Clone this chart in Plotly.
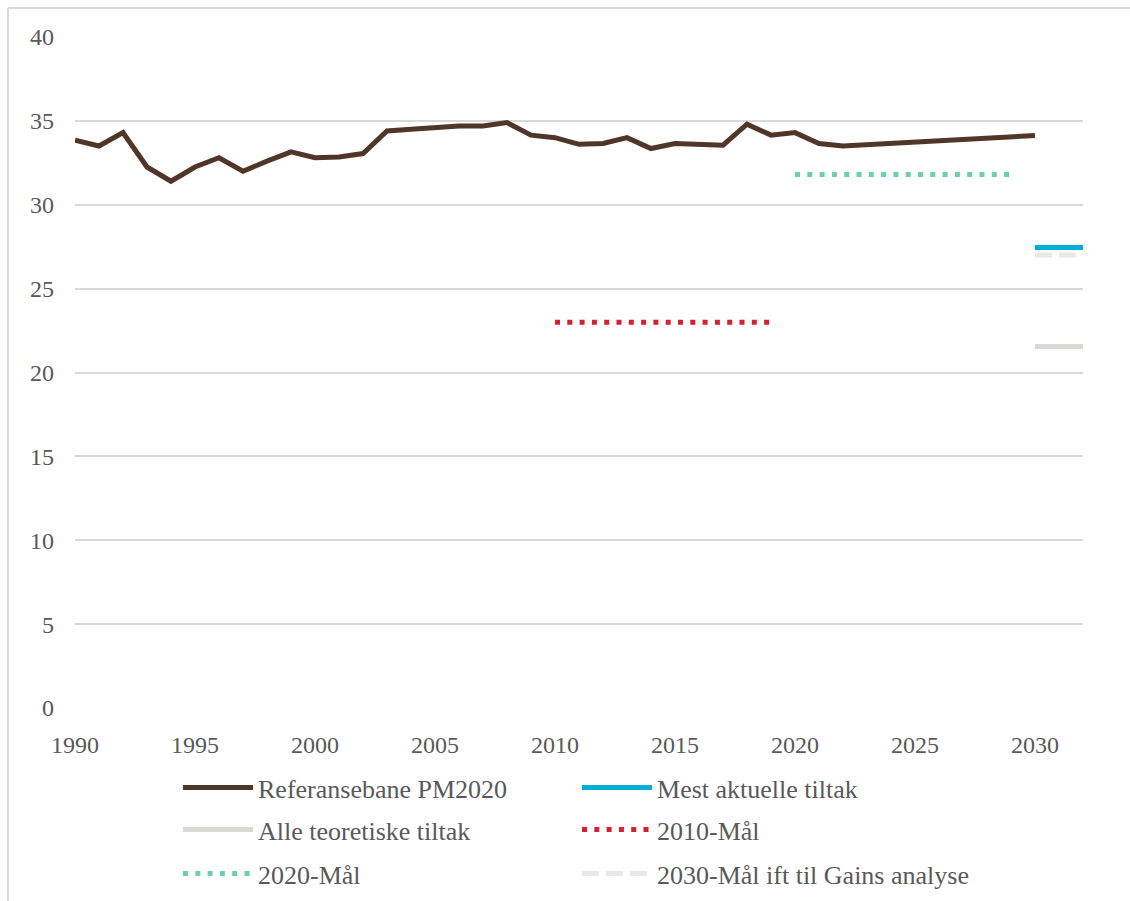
import plotly.graph_objects as go

# Referansebane PM2020 (historic + projection)
ref_years = list(range(1990, 2023)) + [2030]
ref_values = [33.85, 33.5, 34.3, 32.25, 31.4, 32.25, 32.8, 32.0, 32.6, 33.15,
              32.8, 32.85, 33.05, 34.4, 34.5, 34.6, 34.7, 34.7, 34.9, 34.15,
              34.0, 33.6, 33.65, 34.0, 33.35, 33.65, 33.6, 33.55, 34.8, 34.15,
              34.3, 33.65, 33.5, 34.13]

# Targets and measures
mest_years = [2030, 2032]
mest_values = [27.45, 27.45]
alle_years = [2030, 2032]
alle_values = [21.55, 21.55]
mal2010_years = [2010, 2019]
mal2010_values = [23.0, 23.0]
mal2020_years = [2020, 2029]
mal2020_values = [31.8, 31.8]
gains_years = [2030, 2031.7]
gains_values = [27.0, 27.0]

x_ticks = list(range(1990, 2031, 5))
y_ticks = list(range(0, 41, 5))

FONT = "Liberation Serif"
TEXT = "#595959"

fig = go.Figure()
fig.add_trace(go.Scatter(x=ref_years, y=ref_values, mode="lines",
                         name="Referansebane PM2020", legend="legend",
                         line=dict(color="#503628", width=5)))
fig.add_trace(go.Scatter(x=mest_years, y=mest_values, mode="lines",
                         name="Mest aktuelle tiltak", legend="legend",
                         line=dict(color="#00AED6", width=5)))
fig.add_trace(go.Scatter(x=alle_years, y=alle_values, mode="lines",
                         name="Alle teoretiske tiltak", legend="legend2",
                         line=dict(color="#D9D9D6", width=5)))
fig.add_trace(go.Scatter(x=mal2010_years, y=mal2010_values, mode="lines",
                         name="2010-Mål", legend="legend2",
                         line=dict(color="#D7202F", width=5, dash="5px,7.3px")))
fig.add_trace(go.Scatter(x=mal2020_years, y=mal2020_values, mode="lines",
                         name="2020-Mål", legend="legend3",
                         line=dict(color="#6CD0AE", width=5, dash="5px,7.3px")))
fig.add_trace(go.Scatter(x=gains_years, y=gains_values, mode="lines",
                         name="2030-Mål ift til Gains analyse", legend="legend3",
                         line=dict(color="#E8E8E8", width=5, dash="17px,7px")))

# outer frame (left and top edges of the chart box)
frame = dict(color="#D9D9D9", width=2)
fig.add_shape(type="line", xref="paper", yref="paper",
              x0=-0.0665, x1=-0.0665, y0=-0.30, y1=1.0432, line=frame)
fig.add_shape(type="line", xref="paper", yref="paper",
              x0=-0.0665, x1=1.06, y0=1.0432, y1=1.0432, line=frame)


def legend_row(y):
    return dict(orientation="h", x=0.1022, xanchor="left",
                yref="container", y=y, yanchor="top",
                entrywidth=314, entrywidthmode="pixels",
                itemwidth=70, font=dict(family=FONT, size=26, color=TEXT),
                bgcolor="rgba(0,0,0,0)")


fig.update_layout(
    width=1130, height=901,
    margin=dict(l=75, r=47, t=37, b=193, autoexpand=False),
    paper_bgcolor="white", plot_bgcolor="white",
    font=dict(family=FONT, color=TEXT),
    showlegend=True,
    legend=legend_row(0.152),
    legend2=legend_row(0.1054),
    legend3=legend_row(0.0566),
)
fig.update_xaxes(range=[1990, 2032], tickvals=x_ticks,
                 ticktext=[str(v) for v in x_ticks],
                 showgrid=False, zeroline=False, showline=False, ticks="",
                 tickfont=dict(family=FONT, size=24, color=TEXT),
                 ticklabelstandoff=20, automargin=False)
fig.update_yaxes(range=[0, 40], tickvals=y_ticks,
                 showgrid=True, gridcolor="#D9D9D9", gridwidth=2,
                 zeroline=False, showline=False, ticks="",
                 tickfont=dict(family=FONT, size=24, color=TEXT),
                 ticklabelstandoff=20, automargin=False)

fig.write_html("out.html")
